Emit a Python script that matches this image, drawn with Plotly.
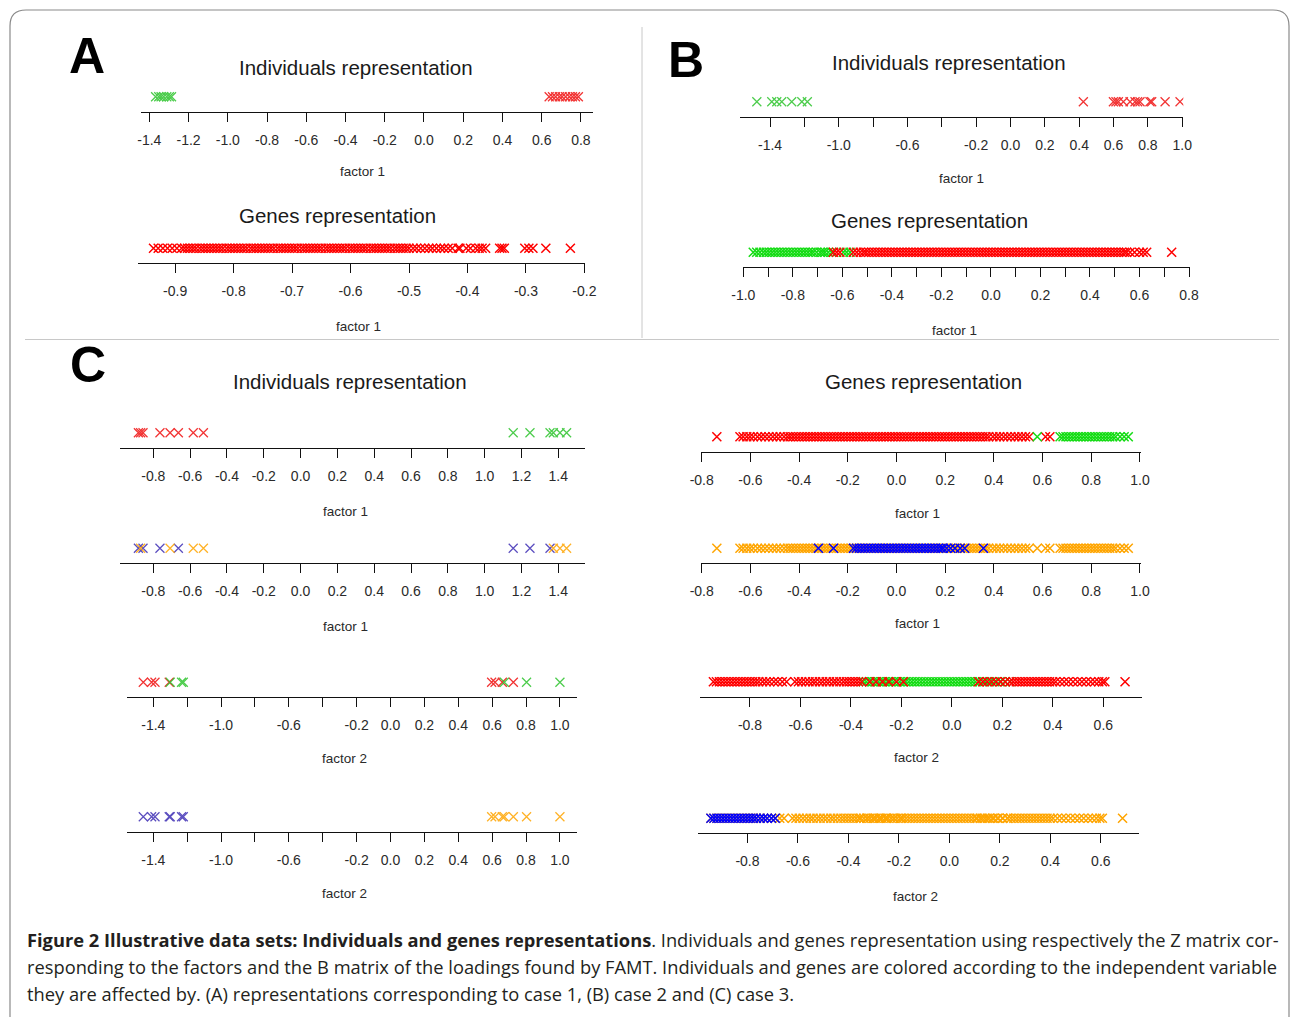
import plotly.graph_objects as go

W, H = 1291, 1017

# ---------------- data ----------------
# Panel A : individuals (factor 1)
A_ind_green = [-1.368, -1.352, -1.340, -1.327, -1.311, -1.298, -1.287]
A_ind_red = [0.638, 0.655, 0.671, 0.690, 0.704, 0.722, 0.741, 0.757, 0.772, 0.787]

# Panel A : genes (factor 1)
A_genes_red = [
    -0.937, -0.929, -0.921, -0.913, -0.905, -0.897,
    -0.889, -0.884, -0.879, -0.874, -0.869, -0.864, -0.858, -0.853, -0.848, -0.843,
    -0.838, -0.833, -0.828, -0.823, -0.818, -0.812, -0.807, -0.802, -0.797, -0.792,
    -0.787, -0.782, -0.777, -0.771, -0.766, -0.761, -0.756, -0.751, -0.746, -0.741,
    -0.736, -0.731, -0.725, -0.720, -0.715, -0.710, -0.705, -0.700, -0.695, -0.690,
    -0.684, -0.679, -0.674, -0.669, -0.664, -0.659, -0.654, -0.649, -0.643, -0.638,
    -0.633, -0.628, -0.623, -0.618, -0.613, -0.608, -0.602, -0.597, -0.592, -0.587,
    -0.582, -0.577, -0.572, -0.566, -0.561, -0.556, -0.551, -0.546, -0.541, -0.536,
    -0.531, -0.525, -0.520, -0.515, -0.510, -0.505,
    -0.500, -0.493, -0.487, -0.480, -0.473, -0.466, -0.460, -0.453, -0.446, -0.440,
    -0.433, -0.426, -0.416, -0.413, -0.402, -0.395, -0.386, -0.380, -0.375, -0.369,
    -0.345, -0.341, -0.337, -0.302, -0.295, -0.288, -0.266, -0.224,
]

# Panel B : individuals (factor 1)
B_ind_green = [-1.477, -1.390, -1.361, -1.332, -1.274, -1.215, -1.183]
B_ind_red = [0.424, 0.599, 0.614, 0.628, 0.657, 0.696, 0.725, 0.740, 0.754, 0.812, 0.822, 0.900, 0.987]

# Panel B : genes (factor 1)
B_genes_green = [
    -0.960, -0.946, -0.933, -0.919, -0.907, -0.895, -0.883, -0.871, -0.859, -0.847,
    -0.835, -0.823, -0.811, -0.799, -0.787, -0.775, -0.763, -0.751, -0.739, -0.727,
    -0.717, -0.704, -0.690, -0.680, -0.670, -0.657, -0.643, -0.596, -0.583, -0.569,
]
B_genes_red = [
    -0.636, -0.623, -0.610, -0.556, -0.542, -0.528,
    -0.515, -0.505, -0.493, -0.481, -0.469, -0.457, -0.445, -0.433, -0.421, -0.409,
    -0.397, -0.385, -0.373, -0.361, -0.349, -0.337, -0.325, -0.313, -0.301, -0.289,
    -0.277, -0.265, -0.253, -0.241, -0.229, -0.217, -0.205, -0.193, -0.181, -0.169,
    -0.157, -0.145, -0.133, -0.121, -0.109, -0.097, -0.085, -0.073, -0.061, -0.049,
    -0.037, -0.025, -0.013, -0.001, 0.011, 0.023, 0.035, 0.047, 0.059, 0.071,
    0.083, 0.095, 0.107, 0.119, 0.131, 0.143, 0.155, 0.167, 0.179, 0.191,
    0.203, 0.215, 0.227, 0.239, 0.251, 0.263, 0.275, 0.287, 0.299, 0.311,
    0.323, 0.335, 0.347, 0.359, 0.371, 0.383, 0.395, 0.407, 0.419, 0.431,
    0.443, 0.455, 0.467, 0.479, 0.491, 0.503, 0.515, 0.527, 0.539, 0.548,
    0.562, 0.580, 0.600, 0.615, 0.629, 0.730,
]

# Panel C : individuals (14), scores on factor 1 / factor 2 and the two variables
C_ind_factor1 = [-0.881, -0.856, -0.764, -0.664, -0.869, -0.709, -0.583, -0.528,
                 1.155, 1.246, 1.355, 1.373, 1.409, 1.445]
C_ind_factor2 = [-1.459, -1.410, -1.390, -1.306, 0.597, 0.617, 0.660, 0.725,
                 -1.300, -1.233, -1.223, 0.672, 0.803, 1.000]
C_ind_var1 = ["red"] * 8 + ["green"] * 6
C_ind_var2 = ["purple"] * 4 + ["orange"] * 4 + ["purple"] * 3 + ["orange"] * 3

# Panel C : genes on factor 1
CG_f1_red = [
    -0.738, -0.643, -0.630, -0.615, -0.602, -0.588, -0.571, -0.556, -0.540, -0.524,
    -0.508, -0.493, -0.478, -0.462, -0.448,
    -0.437, -0.425, -0.413, -0.401, -0.389, -0.377, -0.365, -0.353, -0.341, -0.329,
    -0.317, -0.305, -0.293, -0.281, -0.269, -0.257, -0.245, -0.233, -0.221, -0.209,
    -0.197, -0.185, -0.173, -0.161, -0.149, -0.137, -0.125, -0.113, -0.101, -0.089,
    -0.077, -0.065, -0.053, -0.041, -0.029, -0.017, -0.005, 0.007, 0.019, 0.031,
    0.043, 0.055, 0.067, 0.079, 0.091, 0.103, 0.115, 0.127, 0.139, 0.151,
    0.163, 0.175, 0.187, 0.199, 0.211, 0.223, 0.235, 0.247, 0.259, 0.271,
    0.283, 0.295, 0.307, 0.319, 0.331, 0.343, 0.355, 0.367, 0.379,
    0.396, 0.410, 0.424, 0.440, 0.455, 0.470, 0.486, 0.500, 0.515, 0.530, 0.545,
    0.612, 0.630,
]
CG_f1_green = [
    0.578, 0.672, 0.684, 0.696, 0.708, 0.720, 0.732, 0.744, 0.756, 0.768, 0.780,
    0.792, 0.804, 0.816, 0.828, 0.840, 0.852, 0.864, 0.876, 0.888, 0.900, 0.918,
    0.935, 0.952,
]
CG_f1_blue = [
    -0.321, -0.259, -0.177, -0.165, -0.153, -0.141, -0.129, -0.117, -0.105, -0.093,
    -0.081, -0.069, -0.057, -0.045, -0.033, -0.021, -0.009, 0.003, 0.015, 0.027,
    0.039, 0.051, 0.063, 0.075, 0.087, 0.099, 0.111, 0.123, 0.135, 0.147,
    0.159, 0.171, 0.183, 0.192, 0.206, 0.222, 0.240, 0.262, 0.280, 0.357,
]

# Panel C : genes on factor 2
CG_f2_red = [
    -0.945, -0.933, -0.921, -0.909, -0.897, -0.885, -0.873, -0.861, -0.849, -0.837,
    -0.825, -0.813, -0.801, -0.789, -0.777, -0.765,
    -0.750, -0.736, -0.722, -0.705, -0.690, -0.672, -0.655,
    -0.622, -0.608, -0.595, -0.580, -0.566, -0.552, -0.540, -0.525, -0.512, -0.498,
    -0.485, -0.470, -0.458, -0.444, -0.430, -0.418, -0.406, -0.394, -0.382, -0.370,
    -0.358, -0.325, -0.300, -0.275, -0.250, -0.220, -0.192,
    0.105, 0.122, 0.140, 0.158, 0.176, 0.194, 0.212, 0.230,
    0.243, 0.255, 0.267, 0.279, 0.291, 0.303, 0.315, 0.327, 0.339, 0.351,
    0.363, 0.375, 0.387, 0.399, 0.411,
    0.428, 0.445, 0.462, 0.480, 0.498, 0.515, 0.532, 0.550, 0.566, 0.582,
    0.596, 0.606, 0.686,
]
CG_f2_green = [
    -0.351, -0.339, -0.327, -0.315, -0.303, -0.291, -0.279, -0.267, -0.255, -0.243,
    -0.231, -0.219, -0.207, -0.195, -0.183, -0.171, -0.159, -0.147, -0.135, -0.123,
    -0.111, -0.099, -0.087, -0.075, -0.063, -0.051, -0.039, -0.027, -0.015, -0.003,
    0.009, 0.021, 0.033, 0.045, 0.057, 0.069, 0.081, 0.093, 0.110, 0.130,
    0.150, 0.170, 0.190, 0.210, 0.230,
]
CG_f2_blue = [
    -0.945, -0.933, -0.921, -0.909, -0.897, -0.885, -0.873, -0.861, -0.849, -0.837,
    -0.825, -0.813, -0.801, -0.789, -0.777, -0.765,
    -0.750, -0.736, -0.722, -0.705, -0.690,
]

# tick values / labels
A_ind_ticks = [-1.4, -1.2, -1.0, -0.8, -0.6, -0.4, -0.2, 0.0, 0.2, 0.4, 0.6, 0.8]
A_ind_labels = ["-1.4", "-1.2", "-1.0", "-0.8", "-0.6", "-0.4", "-0.2", "0.0", "0.2", "0.4", "0.6", "0.8"]
A_genes_ticks = [-0.9, -0.8, -0.7, -0.6, -0.5, -0.4, -0.3, -0.2]
A_genes_labels = ["-0.9", "-0.8", "-0.7", "-0.6", "-0.5", "-0.4", "-0.3", "-0.2"]
B_ind_ticks = [-1.4, -1.2, -1.0, -0.8, -0.6, -0.4, -0.2, 0.0, 0.2, 0.4, 0.6, 0.8, 1.0]
B_ind_labels = ["-1.4", "", "-1.0", "", "-0.6", "", "-0.2", "0.0", "0.2", "0.4", "0.6", "0.8", "1.0"]
B_genes_ticks = [-1.0, -0.9, -0.8, -0.7, -0.6, -0.5, -0.4, -0.3, -0.2, -0.1, 0.0,
                 0.1, 0.2, 0.3, 0.4, 0.5, 0.6, 0.7, 0.8]
B_genes_labels = ["-1.0", "", "-0.8", "", "-0.6", "", "-0.4", "", "-0.2", "", "0.0",
                  "", "0.2", "", "0.4", "", "0.6", "", "0.8"]
C_ind_f1_ticks = [-0.8, -0.6, -0.4, -0.2, 0.0, 0.2, 0.4, 0.6, 0.8, 1.0, 1.2, 1.4]
C_ind_f1_labels = ["-0.8", "-0.6", "-0.4", "-0.2", "0.0", "0.2", "0.4", "0.6", "0.8", "1.0", "1.2", "1.4"]
C_ind_f2_ticks = [-1.4, -1.2, -1.0, -0.8, -0.6, -0.4, -0.2, 0.0, 0.2, 0.4, 0.6, 0.8, 1.0]
C_ind_f2_labels = ["-1.4", "", "-1.0", "", "-0.6", "", "-0.2", "0.0", "0.2", "0.4", "0.6", "0.8", "1.0"]
C_genes_f1_ticks = [-0.8, -0.6, -0.4, -0.2, 0.0, 0.2, 0.4, 0.6, 0.8, 1.0]
C_genes_f1_labels = ["-0.8", "-0.6", "-0.4", "-0.2", "0.0", "0.2", "0.4", "0.6", "0.8", "1.0"]
C_genes_f2_ticks = [-0.8, -0.6, -0.4, -0.2, 0.0, 0.2, 0.4, 0.6]
C_genes_f2_labels = ["-0.8", "-0.6", "-0.4", "-0.2", "0.0", "0.2", "0.4", "0.6"]

# ---------------- styles ----------------
RED = "#FF0000"
GREEN = "#14DC14"
BLUE = "#0000FF"
ORANGE = "#FFA500"
PURPLE = "#3F2FB5"
IND_COLORS = {"red": "#F01010", "green": "#2DC42D", "purple": PURPLE, "orange": ORANGE}
FONT = "Liberation Sans, Arial, sans-serif"
TXT = "#1a1a1a"


def px(x):
    return x / W


def py(y):
    return 1 - y / H


def subset(values, labels, key):
    return [v for v, k in zip(values, labels) if k == key]


# panels: geometry in pixels (axis line left/right/y), axis range, ticks, traces
panels = [
    dict(l=140.7, r=592.7, ay=111.7, rng=[-1.444, 0.86], tv=A_ind_ticks, tt=A_ind_labels,
         lab="factor 1", lx=362, ly=171.7, ind=True,
         tr=[(A_ind_green, IND_COLORS["green"]), (A_ind_red, IND_COLORS["red"])]),
    dict(l=138.3, r=585.0, ay=263.3, rng=[-0.963, -0.199], tv=A_genes_ticks, tt=A_genes_labels,
         lab="factor 1", lx=358, ly=326, ind=False,
         tr=[(A_genes_red, RED)]),
    dict(l=740.0, r=1183.3, ay=116.7, rng=[-1.575, 1.006], tv=B_ind_ticks, tt=B_ind_labels,
         lab="factor 1", lx=961, ly=178, ind=True,
         tr=[(B_ind_green, IND_COLORS["green"]), (B_ind_red, IND_COLORS["red"])]),
    dict(l=742.6, r=1190.0, ay=267.3, rng=[-1.003, 0.804], tv=B_genes_ticks, tt=B_genes_labels,
         lab="factor 1", lx=955, ly=330, ind=False,
         tr=[(B_genes_green, GREEN), (B_genes_red, RED)]),
    dict(l=120.0, r=585.0, ay=447.7, rng=[-0.981, 1.545], tv=C_ind_f1_ticks, tt=C_ind_f1_labels,
         lab="factor 1", lx=345, ly=511.7, ind=True,
         tr=[(subset(C_ind_factor1, C_ind_var1, "red"), IND_COLORS["red"]),
             (subset(C_ind_factor1, C_ind_var1, "green"), IND_COLORS["green"])]),
    dict(l=120.0, r=585.0, ay=563.3, rng=[-0.981, 1.545], tv=C_ind_f1_ticks, tt=C_ind_f1_labels,
         lab="factor 1", lx=345, ly=626, ind=True,
         tr=[(subset(C_ind_factor1, C_ind_var2, "purple"), IND_COLORS["purple"]),
             (subset(C_ind_factor1, C_ind_var2, "orange"), IND_COLORS["orange"])]),
    dict(l=126.7, r=576.7, ay=697.3, rng=[-1.557, 1.099], tv=C_ind_f2_ticks, tt=C_ind_f2_labels,
         lab="factor 2", lx=344, ly=758.3, ind=True,
         tr=[(subset(C_ind_factor2, C_ind_var1, "red"), IND_COLORS["red"]),
             (subset(C_ind_factor2, C_ind_var1, "green"), IND_COLORS["green"])]),
    dict(l=126.7, r=576.7, ay=831.7, rng=[-1.557, 1.099], tv=C_ind_f2_ticks, tt=C_ind_f2_labels,
         lab="factor 2", lx=344, ly=893, ind=True,
         tr=[(subset(C_ind_factor2, C_ind_var2, "purple"), IND_COLORS["purple"]),
             (subset(C_ind_factor2, C_ind_var2, "orange"), IND_COLORS["orange"])]),
    dict(l=701.0, r=1140.7, ay=451.7, rng=[-0.803, 1.003], tv=C_genes_f1_ticks, tt=C_genes_f1_labels,
         lab="factor 1", lx=917, ly=513, ind=False,
         tr=[(CG_f1_red, RED), (CG_f1_green, GREEN)]),
    dict(l=701.0, r=1140.7, ay=563.3, rng=[-0.803, 1.003], tv=C_genes_f1_ticks, tt=C_genes_f1_labels,
         lab="factor 1", lx=917, ly=623, ind=False,
         tr=[(CG_f1_red + CG_f1_green, ORANGE), (CG_f1_blue, BLUE)]),
    dict(l=700.0, r=1141.7, ay=696.7, rng=[-0.998, 0.752], tv=C_genes_f2_ticks, tt=C_genes_f2_labels,
         lab="factor 2", lx=916, ly=757.5, ind=False,
         tr=[(CG_f2_green, GREEN), (CG_f2_red, RED)]),
    dict(l=697.5, r=1139.2, ay=833.3, rng=[-0.998, 0.752], tv=C_genes_f2_ticks, tt=C_genes_f2_labels,
         lab="factor 2", lx=915, ly=896, ind=False,
         tr=[(CG_f2_red + CG_f2_green, ORANGE), (CG_f2_blue, BLUE)]),
]

fig = go.Figure()
layout = dict(
    width=W, height=H, margin=dict(l=0, r=0, t=0, b=0, pad=0, autoexpand=False),
    paper_bgcolor="white", plot_bgcolor="rgba(0,0,0,0)", showlegend=False,
)
annotations = []

for i, p in enumerate(panels, start=1):
    xa = "x" if i == 1 else f"x{i}"
    ya = "y" if i == 1 else f"y{i}"
    for vals, col in p["tr"]:
        fig.add_trace(go.Scatter(
            x=vals, y=[0.5] * len(vals), mode="markers", xaxis=xa, yaxis=ya,
            opacity=0.85 if p["ind"] else 1.0,
            marker=dict(symbol="x-thin", size=9,
                        color=col, line=dict(color=col, width=1.25 if p["ind"] else 1.5)),
            hoverinfo="skip",
        ))
    layout[f"xaxis{'' if i == 1 else i}"] = dict(
        domain=[px(p["l"]), px(p["r"])], range=p["rng"], anchor=ya, automargin=False,
        showline=True, linecolor="#111", linewidth=1.2, showgrid=False, zeroline=False,
        ticks="outside", ticklen=9, tickwidth=1.2, tickcolor="#111",
        tickmode="array", tickvals=p["tv"], ticktext=p["tt"],
        tickfont=dict(family=FONT, size=14, color="#2a2a2a"), ticklabelstandoff=6,
        fixedrange=True,
    )
    layout[f"yaxis{'' if i == 1 else i}"] = dict(
        domain=[py(p["ay"]), py(p["ay"] - 30)], range=[0, 1], anchor=xa, automargin=False,
        visible=False, showgrid=False, zeroline=False, fixedrange=True,
    )
    annotations.append(dict(text=p["lab"], x=px(p["lx"]), y=py(p["ly"]), xref="paper", yref="paper",
                            showarrow=False, xanchor="center", yanchor="middle",
                            font=dict(family=FONT, size=13.5, color="#2a2a2a")))

# panel letters and titles
for txt, x, y in [("A", 87, 56), ("B", 686, 60), ("C", 88, 365)]:
    annotations.append(dict(text=f"<b>{txt}</b>", x=px(x), y=py(y), xref="paper", yref="paper",
                            showarrow=False, xanchor="center", yanchor="middle",
                            font=dict(family=FONT, size=50, color="#000")))
for txt, x, y in [("Individuals representation", 355.5, 67), ("Genes representation", 337, 215),
                  ("Individuals representation", 949, 62), ("Genes representation", 929, 220),
                  ("Individuals representation", 349.5, 381), ("Genes representation", 923.5, 381)]:
    annotations.append(dict(text=txt, x=px(x), y=py(y), xref="paper", yref="paper",
                            showarrow=False, xanchor="center", yanchor="middle",
                            font=dict(family=FONT, size=20.5, color=TXT)))

# caption
caption = [
    "<b>Figure 2 Illustrative data sets: Individuals and genes representations</b>. Individuals and genes representation using respectively the Z matrix cor-",
    "responding to the factors and the B matrix of the loadings found by FAMT. Individuals and genes are colored according to the independent variable",
    "they are affected by. (A) representations corresponding to case 1, (B) case 2 and (C) case 3.",
]
for txt, y in zip(caption, [939, 966, 993]):
    annotations.append(dict(text=txt, x=px(25), y=py(y), xref="paper", yref="paper",
                            showarrow=False, xanchor="left", yanchor="middle",
                            font=dict(family="Open Sans, Noto Sans, sans-serif", size=18.3, color="#231F20")))

layout["annotations"] = annotations

# frame and separators
r = 16
frame = (f"M {px(10)} {py(1040)} L {px(10)} {py(10 + r)} Q {px(10)} {py(10)} {px(10 + r)} {py(10)} "
         f"L {px(1289 - r)} {py(10)} Q {px(1289)} {py(10)} {px(1289)} {py(10 + r)} L {px(1289)} {py(1040)}")
layout["shapes"] = [
    dict(type="path", path=frame, xref="paper", yref="paper", line=dict(color="#8a8a8a", width=1.2)),
    dict(type="line", x0=px(642), x1=px(642), y0=py(27), y1=py(338), xref="paper", yref="paper",
         line=dict(color="#c8c8c8", width=1)),
    dict(type="line", x0=px(25), x1=px(1279), y0=py(339.5), y1=py(339.5), xref="paper", yref="paper",
         line=dict(color="#c8c8c8", width=1)),
]

fig.update_layout(**layout)
fig.write_html("out.html", config={"displayModeBar": False},
               post_script="document.body.style.margin='0';document.body.style.overflow='hidden';")
